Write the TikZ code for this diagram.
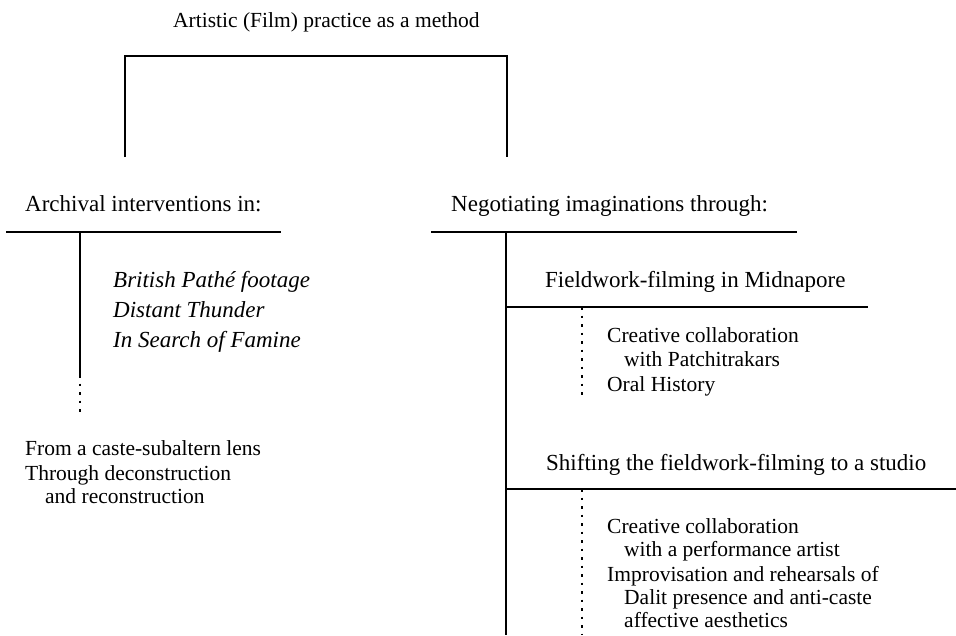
\documentclass[tikz,border=0pt]{standalone}
\usepackage{fontspec}
\setmainfont{Liberation Serif}
\usetikzlibrary{positioning}

\begin{document}
\begin{tikzpicture}[x=1pt, y=-1pt,
    head/.style={font=\fontsize{23}{28}\selectfont, anchor=base west, inner sep=0pt},
    film/.style={font=\fontsize{23}{28}\selectfont\itshape, anchor=base west, inner sep=0pt},
    item/.style={font=\fontsize{21.5}{25}\selectfont, anchor=base west, inner sep=0pt},
    rule/.style={line width=1.8pt},
    dots/.style={line width=1.3pt, dash pattern=on 2.5pt off 6pt}]
    \useasboundingbox (0,0) rectangle (956,635);
    % Title and top bracket
    \node[head, font=\fontsize{21.5}{26}\selectfont] (title) at (173,27) {Artistic (Film) practice as a method};
    \coordinate (brTop) at (316,56);
    \coordinate (brL) at (125,157);
    \coordinate (brR) at (507,157);
    \draw[rule] (brL) |- (brTop) -| (brR);
    % Left branch: archival interventions
    \node[head] (arch) at (25,211) {Archival interventions in:};
    \coordinate (archL) at (6,232);
    \coordinate (archR) at (281,232);
    \draw[rule] (archL) -- (archR);
    \coordinate (archTop) at (80,232);
    \coordinate (archMid) at (80,375);
    \coordinate (archEnd) at (80,417);
    \draw[rule] (archTop) -- (archMid);
    \draw[dots] (archMid) -- (archEnd);
    \node[film] (pathe) at (113,287) {British Pathé footage};
    \node[film] (thunder) at (113,317) {Distant Thunder};
    \node[film] (famine) at (113,347) {In Search of Famine};
    \node[item] (lens) at (25,455) {From a caste-subaltern lens};
    \node[item] (decon) at (25,480) {Through deconstruction};
    \node[item] (recon) at (45,503) {and reconstruction};
    % Right branch: negotiating imaginations
    \node[head] (nego) at (451,211) {Negotiating imaginations through:};
    \coordinate (negoL) at (431,232);
    \coordinate (negoR) at (797,232);
    \draw[rule] (negoL) -- (negoR);
    \coordinate (negoTop) at (506,232);
    \coordinate (negoEnd) at (506,635);
    \draw[rule] (negoTop) -- (negoEnd);
    % Fieldwork in Midnapore
    \node[head] (field) at (545,287) {Fieldwork-filming in Midnapore};
    \coordinate (fieldL) at (506,307);
    \coordinate (fieldR) at (868,307);
    \draw[rule] (fieldL) -- (fieldR);
    \coordinate (fieldTop) at (582,307);
    \coordinate (fieldEnd) at (582,398);
    \draw[dots] (fieldTop) -- (fieldEnd);
    \node[item] (patchi) at (607,342) {Creative collaboration};
    \node[item] (patchi2) at (624,366) {with Patchitrakars};
    \node[item] (oral) at (607,391) {Oral History};
    % Shift to a studio
    \node[head] (studio) at (546,470) {Shifting the fieldwork-filming to a studio};
    \coordinate (studioL) at (506,489);
    \coordinate (studioR) at (956,489);
    \draw[rule] (studioL) -- (studioR);
    \coordinate (studioTop) at (582,489);
    \coordinate (studioEnd) at (582,635);
    \draw[dots] (studioTop) -- (studioEnd);
    \node[item] (perf) at (607,533) {Creative collaboration};
    \node[item] (perf2) at (624,556) {with a performance artist};
    \node[item] (impro) at (607,581) {Improvisation and rehearsals of};
    \node[item] (dalit) at (624,604) {Dalit presence and anti-caste};
    \node[item] (affect) at (624,627) {affective aesthetics};
\end{tikzpicture}
\end{document}
